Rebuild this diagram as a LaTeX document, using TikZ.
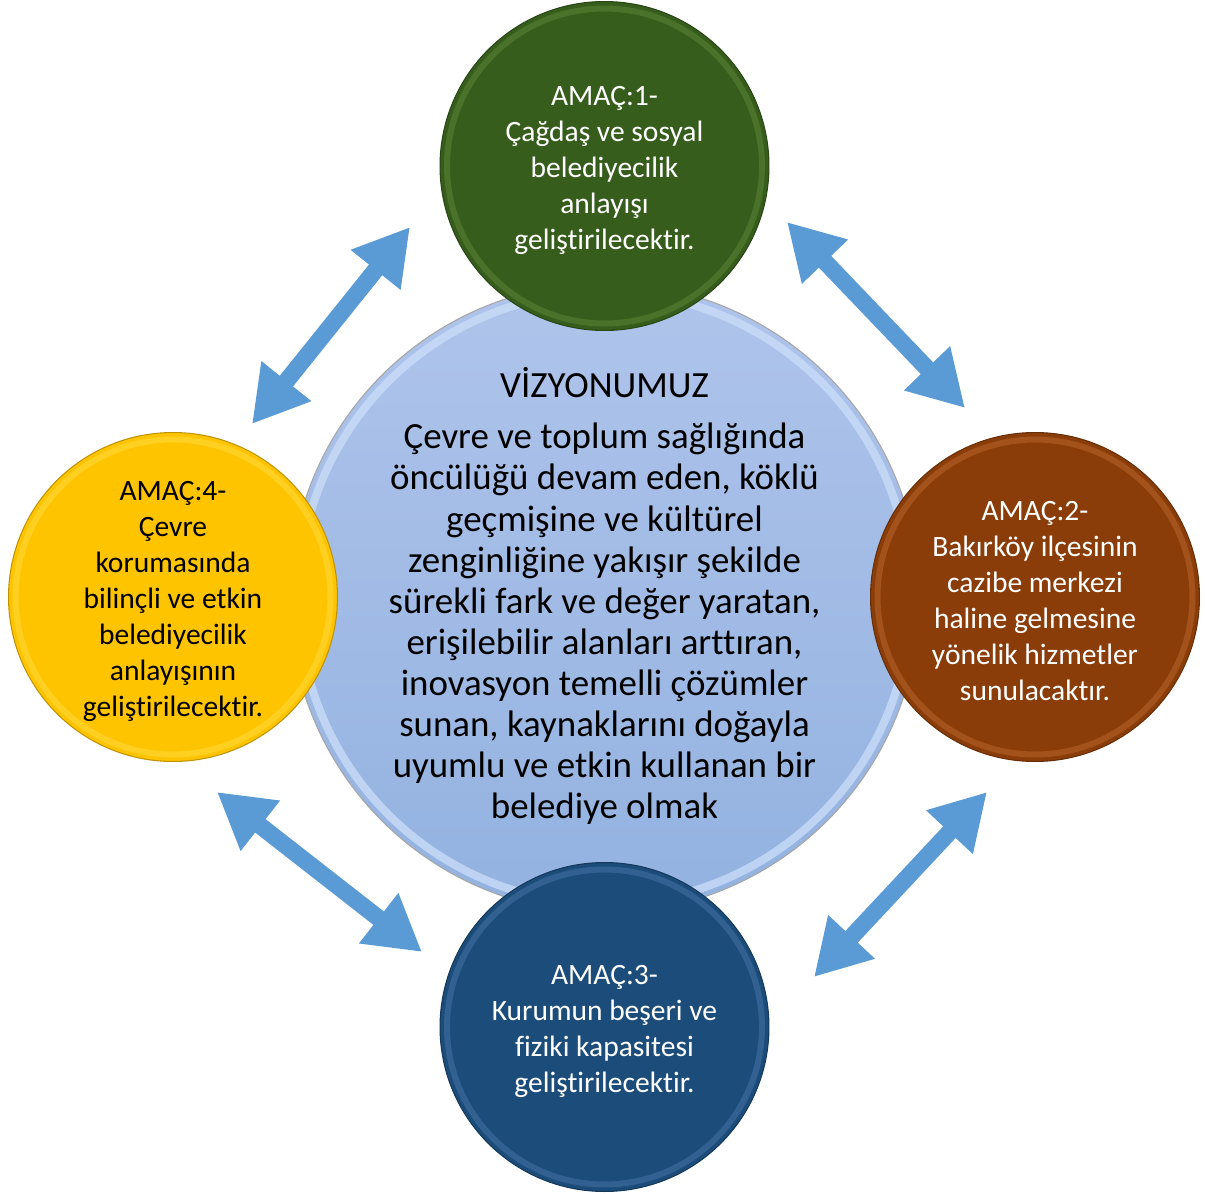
\documentclass[tikz,border=0pt]{standalone}
\usepackage{fontspec}
\setmainfont{Carlito}[Ligatures={NoCommon}]
\usetikzlibrary{arrows.meta}
\definecolor{arrowblue}{HTML}{5B9BD5}
\definecolor{ggreen}{HTML}{375D1C}
\definecolor{ggreenlt}{HTML}{6E9A45}
\definecolor{gbrown}{HTML}{8A3D09}
\definecolor{gbrownlt}{HTML}{D07A3A}
\definecolor{gblue}{HTML}{1C4C7A}
\definecolor{gbluelt}{HTML}{5C8BBE}
\definecolor{gyellow}{HTML}{FFC400}
\definecolor{gyellowlt}{HTML}{FFE860}
\definecolor{vtop}{HTML}{AFC4EB}
\definecolor{vbot}{HTML}{93B2E0}
\definecolor{vrim}{HTML}{C9DCF8}
\newcommand{\topstrut}{\rule{0pt}{16pt}}
\begin{document}
\begin{tikzpicture}[x=0.02cm,y=-0.02cm,
  goal/.style n args={2}{circle, minimum size=6.58cm, inner sep=0pt,
    fill=#1, draw=#1!75!black, line width=0.6pt,
    text=white, align=center,
    font=\fontsize{16.8}{20.5}\selectfont,
    path picture={\draw[#2, line width=0.12cm, opacity=0.35]
      (path picture bounding box.center) circle[radius=3.15cm];}},
  bigarrow/.style={draw=arrowblue, line width=0.34cm,
    {Triangle[length=1.1cm,width=1.2cm]}-{Triangle[length=1.1cm,width=1.2cm]}},
  vision/.style={circle, minimum size=12.6cm, inner sep=0pt,
    top color=vtop, bottom color=vbot, draw=gray!70, line width=0.6pt,
    path picture={\draw[vrim, line width=0.16cm, opacity=0.8]
      (path picture bounding box.center) circle[radius=6.12cm];}},
  vfont/.style={font=\fontsize{21}{23.4}\selectfont, text=black}
]
\useasboundingbox (0,0) rectangle (1205,1194);

% central vision circle
\node[vision] (vis) at (604.5,598) {};
\node[vfont] (vtitle) at (604.5,383) {VİZYONUMUZ};
\node[vfont, align=center, inner sep=0pt] (vtext) at (604.5,624) {Çevre ve toplum sağlığında\\
öncülüğü devam eden, köklü\\
geçmişine ve kültürel\\
zenginliğine yakışır şekilde\\
sürekli fark ve değer yaratan,\\
erişilebilir alanları arttıran,\\
inovasyon temelli çözümler\\
sunan, kaynaklarını doğayla\\
uyumlu ve etkin kullanan bir\\
belediye olmak};

% goal circles
\node[goal={ggreen}{ggreenlt}] (g1) at (604.5,166) {\topstrut AMAÇ:1-\\Çağdaş ve sosyal\\belediyecilik\\anlayışı\\geliştirilecektir.};
\node[goal={gbrown}{gbrownlt}] (g2) at (1035,597) {\topstrut AMAÇ:2-\\Bakırköy ilçesinin\\cazibe merkezi\\haline gelmesine\\yönelik hizmetler\\sunulacaktır.};
\node[goal={gblue}{gbluelt}] (g3) at (604.5,1027) {\topstrut AMAÇ:3-\\Kurumun beşeri ve\\fiziki kapasitesi\\geliştirilecektir.};
\node[goal={gyellow}{gyellowlt}, text=black] (g4) at (173,597) {\topstrut AMAÇ:4-\\Çevre\\korumasında\\bilinçli ve etkin\\belediyecilik\\anlayışının\\geliştirilecektir.};

% arrows
\coordinate (a1s) at (252,424);
\coordinate (a1e) at (410,227);
\coordinate (a2s) at (787,222);
\coordinate (a2e) at (965,408);
\coordinate (a3s) at (987,792);
\coordinate (a3e) at (814,977);
\coordinate (a4s) at (217,792);
\coordinate (a4e) at (422,952);
\draw[bigarrow] (a1s) -- (a1e);
\draw[bigarrow] (a2s) -- (a2e);
\draw[bigarrow] (a3s) -- (a3e);
\draw[bigarrow] (a4s) -- (a4e);
\end{tikzpicture}
\end{document}
